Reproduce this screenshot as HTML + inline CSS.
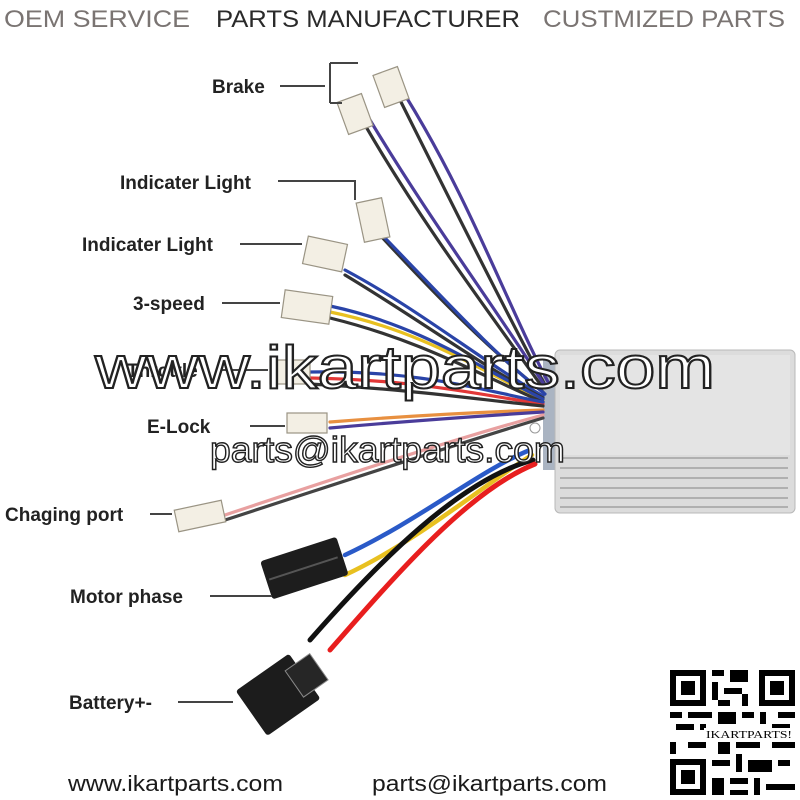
<!DOCTYPE html>
<html><head><meta charset="utf-8"><style>
html,body{margin:0;padding:0;background:#fff;}
svg{display:block;font-family:"Liberation Sans",sans-serif;}
.lb{font-weight:bold;font-size:19px;fill:#222;}
.ld{stroke:#444;stroke-width:2;fill:none;}
.w{fill:none;stroke-width:3.2;stroke-linecap:round;}
.cn{fill:#f3efe4;stroke:#9a9484;stroke-width:1.2;}
</style></head><body>
<svg width="800" height="800" viewBox="0 0 800 800">
<rect width="800" height="800" fill="#fff"/>
<!-- header -->
<text x="4" y="27" font-size="24" fill="#7a7472" textLength="186" lengthAdjust="spacingAndGlyphs">OEM SERVICE</text>
<text x="216" y="27" font-size="24" fill="#2a2a2a" textLength="304" lengthAdjust="spacingAndGlyphs">PARTS MANUFACTURER</text>
<text x="543" y="27" font-size="24" fill="#7a7472" textLength="242" lengthAdjust="spacingAndGlyphs">CUSTMIZED PARTS</text>

<!-- controller box -->
<rect x="543" y="360" width="22" height="110" fill="#aab4c2"/>
<rect x="555" y="350" width="240" height="163" rx="5" fill="#dcdcdc" stroke="#b8b8b8"/>
<rect x="560" y="355" width="230" height="100" fill="#e4e4e4"/>
<g stroke="#b0b0b0" stroke-width="2">
<line x1="560" y1="458" x2="788" y2="458"/><line x1="560" y1="468" x2="788" y2="468"/>
<line x1="560" y1="478" x2="788" y2="478"/><line x1="560" y1="488" x2="788" y2="488"/>
<line x1="560" y1="498" x2="788" y2="498"/><line x1="560" y1="507" x2="788" y2="507"/>
</g>
<circle cx="535" cy="428" r="5" fill="#fff" stroke="#999"/>

<!-- wires -->
<g class="w">
<path d="M400 100 C450 200 500 300 545 385" stroke="#333"/>
<path d="M405 95 C470 200 505 300 548 382" stroke="#4a3c9a"/>
<path d="M365 125 C420 220 480 300 543 388" stroke="#333"/>
<path d="M370 120 C430 220 490 300 545 386" stroke="#4a3c9a"/>
<path d="M380 235 C440 300 490 350 543 392" stroke="#333"/>
<path d="M385 238 C445 300 495 355 545 394" stroke="#2a44a8"/>
<path d="M345 270 C420 310 480 360 543 396" stroke="#2a44a8"/>
<path d="M345 275 C420 320 480 365 543 398" stroke="#333"/>
<path d="M330 312 C420 330 480 370 543 400" stroke="#e8c020"/>
<path d="M330 318 C420 340 480 375 543 402" stroke="#333"/>
<path d="M330 306 C420 325 480 368 543 399" stroke="#2a44a8"/>
<path d="M310 378 C420 380 480 395 543 404" stroke="#e23838"/>
<path d="M310 372 C420 370 480 390 543 402" stroke="#2a44a8"/>
<path d="M310 384 C420 390 480 400 543 406" stroke="#333"/>
<path d="M330 422 C420 415 480 412 543 410" stroke="#e89040"/>
<path d="M330 428 C420 420 480 416 543 412" stroke="#4a3c9a"/>
<path d="M225 515 C330 480 450 440 543 415" stroke="#e8a0a0"/>
<path d="M225 520 C330 486 450 446 543 418" stroke="#444"/>
<path d="M345 555 C420 520 480 470 530 450" stroke="#2a5ac8" stroke-width="4.5"/>
<path d="M345 575 C420 540 490 480 532 455" stroke="#e8c020" stroke-width="4.5"/>
<path d="M310 640 C380 560 460 480 533 460" stroke="#111" stroke-width="5"/>
<path d="M330 650 C400 570 470 490 535 464" stroke="#e81e1e" stroke-width="5"/>
</g>

<!-- small connectors -->
<g class="cn">
<rect x="378" y="70" width="26" height="34" transform="rotate(-20 391 87)"/>
<rect x="342" y="97" width="26" height="34" transform="rotate(-20 355 114)"/>
<rect x="360" y="200" width="26" height="40" transform="rotate(-12 373 220)"/>
<rect x="305" y="240" width="40" height="28" transform="rotate(12 325 254)"/>
<rect x="283" y="293" width="48" height="28" transform="rotate(8 307 307)"/>
<rect x="270" y="360" width="40" height="24"/>
<rect x="287" y="413" width="40" height="20"/>
<rect x="176" y="505" width="48" height="22" transform="rotate(-12 200 516)"/>
</g>
<!-- motor phase connector -->
<g transform="rotate(-18 305 570)">
<rect x="265" y="548" width="80" height="40" rx="3" fill="#1d1d1d"/>
<line x1="268" y1="568" x2="340" y2="568" stroke="#555" stroke-width="2"/>
</g>
<!-- battery connector -->
<g transform="rotate(-35 275 700)">
<rect x="248" y="670" width="65" height="55" rx="3" fill="#1c1c1c"/>
<rect x="300" y="682" width="30" height="32" fill="#262626" stroke="#888"/>
</g>

<!-- labels -->
<text class="lb" x="212" y="93">Brake</text>
<path class="ld" d="M280 86 H325 M330 63 V103 M330 63 H358 M330 103 H342"/>
<text class="lb" x="120" y="189">Indicater Light</text>
<path class="ld" d="M278 181 H355 V200"/>
<text class="lb" x="82" y="251">Indicater Light</text>
<path class="ld" d="M240 244 H302"/>
<text class="lb" x="133" y="310">3-speed</text>
<path class="ld" d="M222 303 H280"/>
<text class="lb" x="127" y="377">Throttle</text>
<path class="ld" d="M216 370 H268"/>
<text class="lb" x="147" y="433">E-Lock</text>
<path class="ld" d="M250 426 H285"/>
<text class="lb" x="5" y="521">Chaging port</text>
<path class="ld" d="M150 514 H172"/>
<text class="lb" x="70" y="603">Motor phase</text>
<path class="ld" d="M210 596 H272"/>
<text class="lb" x="69" y="709">Battery+-</text>
<path class="ld" d="M178 702 H233"/>

<!-- watermarks -->
<text x="95" y="388" font-size="60" fill="#fff" stroke="#222" stroke-width="2" textLength="620" lengthAdjust="spacingAndGlyphs">www.ikartparts.com</text>
<text x="210" y="462" font-size="36" fill="#fff" stroke="#222" stroke-width="1.4" textLength="355" lengthAdjust="spacingAndGlyphs">parts@ikartparts.com</text>

<!-- footer -->
<text x="68" y="791" font-size="22" fill="#1a1a1a" textLength="215" lengthAdjust="spacingAndGlyphs">www.ikartparts.com</text>
<text x="372" y="791" font-size="22" fill="#1a1a1a" textLength="235" lengthAdjust="spacingAndGlyphs">parts@ikartparts.com</text>

<!-- QR -->
<g fill="#000">
<rect x="670" y="670" width="36" height="36"/><rect x="676" y="676" width="24" height="24" fill="#fff"/><rect x="681" y="681" width="14" height="14"/>
<rect x="759" y="670" width="36" height="36"/><rect x="765" y="676" width="24" height="24" fill="#fff"/><rect x="770" y="681" width="14" height="14"/>
<rect x="670" y="759" width="36" height="36"/><rect x="676" y="765" width="24" height="24" fill="#fff"/><rect x="681" y="770" width="14" height="14"/>
<rect x="712" y="670" width="12" height="6"/><rect x="730" y="670" width="18" height="12"/><rect x="712" y="682" width="6" height="18"/>
<rect x="724" y="688" width="18" height="6"/><rect x="742" y="694" width="6" height="12"/><rect x="718" y="700" width="12" height="6"/>
<rect x="670" y="712" width="12" height="6"/><rect x="688" y="712" width="24" height="6"/><rect x="718" y="712" width="18" height="12"/>
<rect x="742" y="712" width="12" height="6"/><rect x="760" y="712" width="6" height="12"/><rect x="778" y="712" width="17" height="6"/>
<rect x="676" y="724" width="18" height="6"/><rect x="700" y="724" width="6" height="6"/><rect x="772" y="724" width="18" height="6"/>
<rect x="670" y="742" width="6" height="12"/><rect x="688" y="742" width="18" height="6"/><rect x="718" y="742" width="12" height="12"/>
<rect x="736" y="742" width="24" height="6"/><rect x="772" y="742" width="23" height="6"/><rect x="712" y="760" width="18" height="6"/>
<rect x="736" y="754" width="6" height="18"/><rect x="748" y="760" width="24" height="12"/><rect x="778" y="760" width="12" height="6"/>
<rect x="712" y="778" width="12" height="17"/><rect x="730" y="778" width="18" height="6"/><rect x="754" y="778" width="6" height="17"/>
<rect x="766" y="784" width="29" height="6"/><rect x="730" y="790" width="18" height="5"/>
</g>
<rect x="704" y="728" width="90" height="12" fill="#fff"/>
<text x="706" y="738" font-family="Liberation Serif,serif" font-size="11" fill="#000" textLength="86" lengthAdjust="spacingAndGlyphs">IKARTPARTS!</text>
</svg>
</body></html>
